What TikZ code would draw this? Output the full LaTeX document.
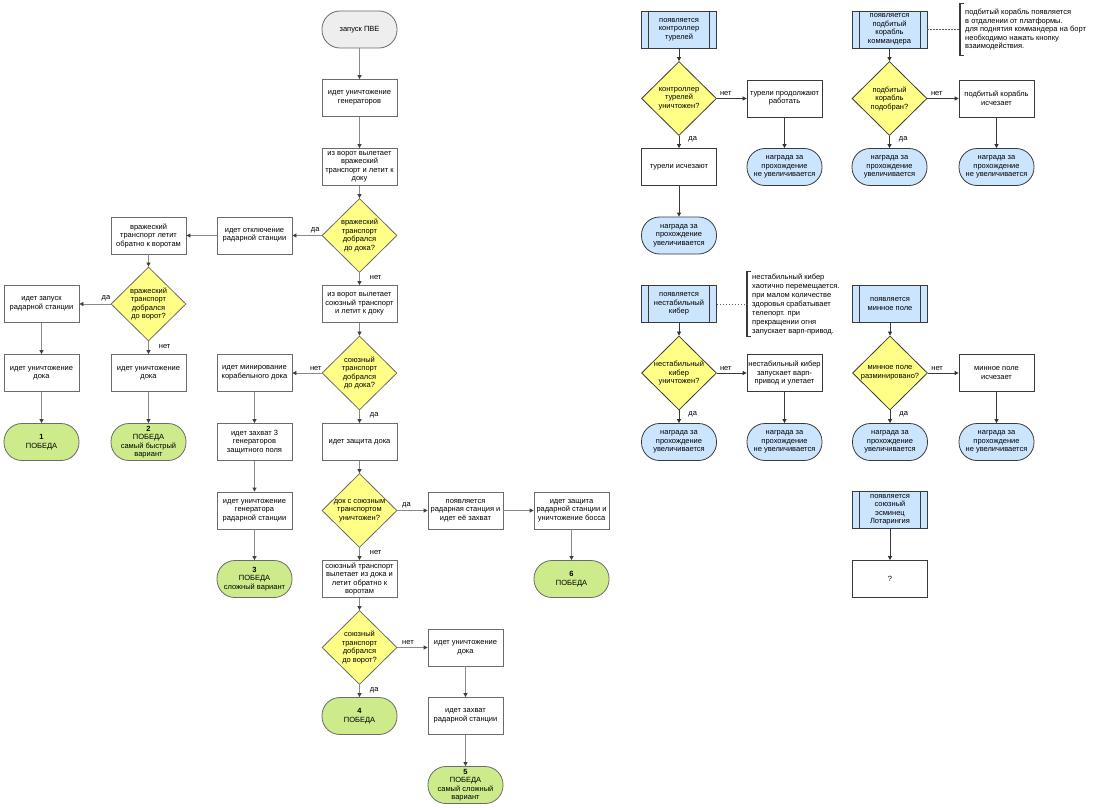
\documentclass[tikz,border=0pt]{standalone}
\usepackage{fontspec}
\setmainfont{Liberation Sans}
\usetikzlibrary{shapes.geometric,arrows.meta}
\definecolor{bordc}{HTML}{6B6B6B}
\definecolor{rbord}{HTML}{3A3A3A}
\definecolor{lgray}{HTML}{8A8A8A}
\definecolor{startfill}{HTML}{EEEEEE}
\definecolor{wingreen}{HTML}{CDEB8B}
\definecolor{awblue}{HTML}{CCE5FF}
\definecolor{decy}{HTML}{FFFF88}
\begin{document}
\begin{tikzpicture}[x=1pt,y=-1pt,
  font=\fontsize{7.5}{8.5}\selectfont,
  box/.style={draw=bordc, fill=white, line width=0.8pt, minimum width=75pt, minimum height=37pt, inner sep=0.5pt, align=center},
  rbox/.style={box, draw=rbord},
  term/.style={box, rounded corners=18pt},
  startt/.style={term, fill=startfill},
  win/.style={term, fill=wingreen},
  award/.style={term, fill=awblue, draw=rbord},
  proc/.style={box, fill=awblue, draw=rbord},
  dec/.style={diamond, draw=bordc, fill=decy, line width=0.8pt, minimum width=75pt, minimum height=74pt, inner sep=0pt},
  rdec/.style={dec, draw=rbord},
  dtext/.style={align=center, inner sep=0pt},
  arr/.style={draw=lgray, line width=0.8pt, -{Triangle[length=4pt,width=4pt,color=black!75]}},
  rarr/.style={draw=rbord, line width=0.8pt, -{Triangle[length=4pt,width=4pt,color=black!80]}},
  elab/.style={inner sep=1pt},
  ann/.style={anchor=west, inner xsep=5pt, inner ysep=0pt, align=left},
  brk/.style={draw=rbord, line width=1.2pt},
  dots/.style={draw=black!65, line width=0.7pt, dash pattern=on 1.5pt off 1.5pt}
]
\useasboundingbox (0,0) rectangle (1100,808);
\fill[white] (0,0) rectangle (1100,808);

% ---------- main flow ----------
\node[startt] (start) at (359.5,29.5) {запуск ПВЕ};
\node[box] (gen) at (359.5,98) {идет уничтожение\\генераторов};
\node[box] (enemy1) at (359.5,167) {из ворот вылетает\\вражеский\\транспорт и летит к\\доку};
\node[dec] (d1) at (359.5,235.5) {};
\node[dtext] (d1t) at (d1) {вражеский\\транспорт\\добрался\\до дока?};
\node[box] (radaroff) at (254.5,235.5) {идет отключение\\радарной станции};
\node[box] (enback) at (148.5,235.5) {вражеский\\транспорт летит\\обратно к воротам};
\node[dec] (d2) at (148.5,304) {};
\node[dtext] (d2t) at (d2) {вражеский\\транспорт\\добрался\\до ворот?};
\node[box] (radarlaunch) at (41.5,304) {идет запуск\\радарной станции};
\node[box] (dock1) at (41.5,373) {идет уничтожение\\дока};
\node[box] (dock2) at (148.5,373) {идет уничтожение\\дока};
\node[win] (win1) at (41.5,442) {\textbf{1}\\ПОБЕДА};
\node[win] (win2) at (148.5,442) {\textbf{2}\\ПОБЕДА\\самый быстрый\\вариант};
\node[box] (ally1) at (359.5,304) {из ворот вылетает\\союзный транспорт\\и летит к доку};
\node[dec] (d3) at (359.5,373) {};
\node[dtext] (d3t) at (d3) {союзный\\транспорт\\добрался\\до дока?};
\node[box] (mining) at (254.5,373) {идет минирование\\корабельного дока};
\node[box] (cap3) at (254.5,442) {идет захват 3\\генераторов\\защитного поля};
\node[box] (gendes) at (254.5,510.5) {идет уничтожение\\генератора\\радарной станции};
\node[win] (win3) at (254.5,579) {\textbf{3}\\ПОБЕДА\\сложный вариант};
\node[box] (defend) at (359.5,442) {идет защита дока};
\node[dec] (d4) at (359.5,510.5) {};
\node[dtext] (d4t) at (d4) {док с союзным\\транспортом\\уничтожен?};
\node[box] (radarapp) at (465.5,510.5) {появляется\\радарная станция и\\идет её захват};
\node[box] (defradar) at (571.5,510.5) {идет защита\\радарной станции и\\уничтожение босса};
\node[win] (win6) at (571.5,579) {\textbf{6}\\ПОБЕДА};
\node[box] (allyback) at (359.5,579) {союзный транспорт\\вылетает из дока и\\летит обратно к\\воротам};
\node[dec] (d5) at (359.5,647.5) {};
\node[dtext] (d5t) at (d5) {союзный\\транспорт\\добрался\\до ворот?};
\node[win] (win4) at (359.5,716) {\textbf{4}\\ПОБЕДА};
\node[box] (dock3) at (465.5,647.5) {идет уничтожение\\дока};
\node[box] (capradar) at (465.5,716) {идет захват\\радарной станции};
\node[win] (win5) at (465.5,785) {\textbf{5}\\ПОБЕДА\\самый сложный\\вариант};

\draw[arr] (start) -- (gen);
\draw[arr] (gen) -- (enemy1);
\draw[arr] (enemy1) -- (d1);
\draw[arr] (d1.west) -- node[elab, above, pos=0.22, yshift=1.5pt] {да} (radaroff.east);
\draw[arr] (radaroff) -- (enback);
\draw[arr] (enback) -- (d2);
\draw[arr] (d2.west) -- node[elab, above, pos=0.15, yshift=1.5pt] {да} (radarlaunch.east);
\draw[arr] (d2.south) -- node[elab, anchor=west, xshift=9pt, pos=0.4] {нет} (dock2.north);
\draw[arr] (radarlaunch) -- (dock1);
\draw[arr] (dock1) -- (win1);
\draw[arr] (dock2) -- (win2);
\draw[arr] (d1.south) -- node[elab, anchor=west, xshift=9pt, pos=0.4] {нет} (ally1.north);
\draw[arr] (ally1) -- (d3);
\draw[arr] (d3.west) -- node[elab, above, pos=0.2, yshift=1.5pt] {нет} (mining.east);
\draw[arr] (d3.south) -- node[elab, anchor=west, xshift=9pt, pos=0.4] {да} (defend.north);
\draw[arr] (mining) -- (cap3);
\draw[arr] (cap3) -- (gendes);
\draw[arr] (gendes) -- (win3);
\draw[arr] (defend) -- (d4);
\draw[arr] (d4.east) -- node[elab, above, pos=0.3, yshift=1.5pt] {да} (radarapp.west);
\draw[arr] (radarapp) -- (defradar);
\draw[arr] (defradar) -- (win6);
\draw[arr] (d4.south) -- node[elab, anchor=west, xshift=9pt, pos=0.4] {нет} (allyback.north);
\draw[arr] (allyback) -- (d5);
\draw[arr] (d5.south) -- node[elab, anchor=west, xshift=9pt, pos=0.4] {да} (win4.north);
\draw[arr] (d5.east) -- node[elab, above, pos=0.35, yshift=1.5pt] {нет} (dock3.west);
\draw[arr] (dock3) -- (capradar);
\draw[arr] (capradar) -- (win5);

% ---------- right section ----------
\node[proc] (ctrl) at (679,29.5) {появляется\\контроллер\\турелей};
\node[rdec] (dctrl) at (679,98.5) {};
\node[dtext] (dctrlt) at (dctrl) {контроллер\\турелей\\уничтожен?};
\node[rbox] (turcont) at (784.5,98.5) {турели продолжают\\работать};
\node[award] (awno1) at (784.5,167) {награда за\\прохождение\\не увеличивается};
\node[rbox] (turvan) at (679,167) {турели исчезают};
\node[award] (awyes1) at (679,235.5) {награда за\\прохождение\\увеличивается};

\node[proc] (ship) at (889.5,29.5) {появляется\\подбитый\\корабль\\коммандера};
\node[rdec] (dship) at (889.5,98.5) {};
\node[dtext] (dshipt) at (dship) {подбитый\\корабль\\подобран?};
\node[rbox] (shipvan) at (996.5,98.5) {подбитый корабль\\исчезает};
\node[award] (awyes2) at (889.5,167) {награда за\\прохождение\\увеличивается};
\node[award] (awno2) at (996.5,167) {награда за\\прохождение\\не увеличивается};
\node[ann, minimum height=51pt] (ann1) at (960,29.5) {подбитый корабль появляется\\в отдалении от платформы.\\для поднятия коммандера на борт\\необходимо нажать кнопку\\взаимодействия.};

\node[proc] (cyber) at (679,304) {появляется\\нестабильный\\кибер};
\node[rdec] (dcyber) at (679,373) {};
\node[dtext] (dcybert) at (dcyber) {нестабильный\\кибер\\уничтожен?};
\node[rbox] (cybwarp) at (784.5,373) {нестабильный кибер\\запускает варп-\\привод и улетает};
\node[award] (awyes3) at (679,442) {награда за\\прохождение\\увеличивается};
\node[award] (awno3) at (784.5,442) {награда за\\прохождение\\не увеличивается};
\node[ann, minimum height=64pt, font=\fontsize{7.5}{9}\selectfont] (ann2) at (747,304) {нестабильный кибер\\хаотично перемещается.\\при малом количестве\\здоровья срабатывает\\телепорт. при\\прекращении огня\\запускает варп-привод.};

\node[proc] (mine) at (890,304) {появляется\\минное поле};
\node[rdec] (dmine) at (890,373) {};
\node[dtext] (dminet) at (dmine) {минное поле\\разминировано?};
\node[rbox] (minevan) at (996.5,373) {минное поле\\исчезает};
\node[award] (awyes4) at (890,442) {награда за\\прохождение\\увеличивается};
\node[award] (awno4) at (996.5,442) {награда за\\прохождение\\не увеличивается};

\node[proc] (lorr) at (890,510) {появляется\\союзный\\эсминец\\Лотарингия};
\node[rbox] (q) at (890,579) {?};

\foreach \n in {ctrl,ship,cyber,mine,lorr}{
  \draw[draw=rbord, line width=0.8pt] ([xshift=7.5pt]\n.north west) -- ([xshift=7.5pt]\n.south west);
  \draw[draw=rbord, line width=0.8pt] ([xshift=-7.5pt]\n.north east) -- ([xshift=-7.5pt]\n.south east);
}
\foreach \a in {ann1,ann2}{
  \draw[brk] ([xshift=4pt]\a.north west) -- (\a.north west) -- (\a.south west) -- ([xshift=4pt]\a.south west);
}
\draw[dots] (ship.east) -- (ann1.west);
\draw[dots] (cyber.east) -- (ann2.west);

\draw[rarr] (ctrl) -- (dctrl);
\draw[rarr] (dctrl.east) -- node[elab, above, pos=0.3, yshift=1.5pt] {нет} (turcont.west);
\draw[rarr] (dctrl.south) -- node[elab, anchor=west, xshift=8pt, pos=0.3] {да} (turvan.north);
\draw[rarr] (turcont) -- (awno1);
\draw[rarr] (turvan) -- (awyes1);

\draw[rarr] (ship) -- (dship);
\draw[rarr] (dship.east) -- node[elab, above, pos=0.3, yshift=1.5pt] {нет} (shipvan.west);
\draw[rarr] (dship.south) -- node[elab, anchor=west, xshift=8pt, pos=0.3] {да} (awyes2.north);
\draw[rarr] (shipvan) -- (awno2);

\draw[rarr] (cyber) -- (dcyber);
\draw[rarr] (dcyber.east) -- node[elab, above, pos=0.3, yshift=1.5pt] {нет} (cybwarp.west);
\draw[rarr] (dcyber.south) -- node[elab, anchor=west, xshift=8pt, pos=0.3] {да} (awyes3.north);
\draw[rarr] (cybwarp) -- (awno3);

\draw[rarr] (mine) -- (dmine);
\draw[rarr] (dmine.east) -- node[elab, above, pos=0.3, yshift=1.5pt] {нет} (minevan.west);
\draw[rarr] (dmine.south) -- node[elab, anchor=west, xshift=8pt, pos=0.3] {да} (awyes4.north);
\draw[rarr] (minevan) -- (awno4);

\draw[rarr] (lorr) -- (q);
\end{tikzpicture}
\end{document}
